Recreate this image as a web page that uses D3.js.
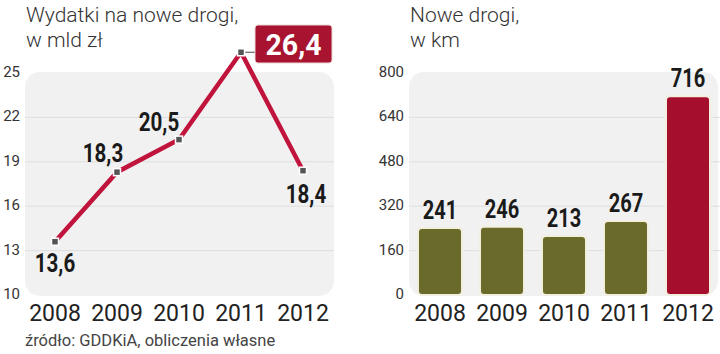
<!DOCTYPE html>
<html>
<head>
<meta charset="utf-8">
<script src="https://cdn.jsdelivr.net/npm/d3@7"></script>
<style>
  body { margin: 0; background: #fff; }
  svg { display: block; }
  .title { font-family: Roboto, "Open Sans", sans-serif; font-weight: 300; font-size: 21px; fill: #333; }
  .tick { font-family: Roboto, "Open Sans", sans-serif; font-size: 15px; fill: #333; }
  .year { font-family: Roboto, "Open Sans", sans-serif; font-size: 23px; fill: #222; }
  .val { font-family: Roboto, "Open Sans", sans-serif; font-weight: bold; font-size: 25px; fill: #1a1a1a; }
  .src { font-family: Roboto, "Open Sans", sans-serif; font-size: 16.5px; fill: #444; }
</style>
</head>
<body>
<div id="chart"></div>
<script>
const years = ["2008", "2009", "2010", "2011", "2012"];
const spending = [13.6, 18.3, 20.5, 26.4, 18.4];
const spendingLabels = ["13,6", "18,3", "20,5", "26,4", "18,4"];
const spendingTicks = [10, 13, 16, 19, 22, 25];
const roads = [241, 246, 213, 267, 716];
const roadTicks = [0, 160, 320, 480, 640, 800];

const width = 720, height = 354;
const svg = d3.select("#chart").append("svg")
  .attr("width", width).attr("height", height);

// condensed look for the value labels
const narrow = (s, k = 1) => (s.replace(/,/g, "").length * 11.5 + (s.split(",").length - 1) * 6) * k;

// ---- left: line chart ----
const xL = d3.scalePoint().domain(years).range([24, 334]).padding(0.5);
const yL = d3.scaleLinear().domain([10, 25]).range([295, 73]);

svg.append("rect").attr("x", 25).attr("y", 72).attr("width", 309).attr("height", 224)
  .attr("rx", 15).attr("fill", "#f1f1f1");

svg.selectAll(".gridL").data(spendingTicks.slice(1, -1)).enter().append("line")
  .attr("x1", 25).attr("x2", 334)
  .attr("y1", d => yL(d)).attr("y2", d => yL(d))
  .attr("stroke", "#dedede").attr("stroke-width", 1);

svg.selectAll(".tickL").data(spendingTicks).enter().append("text")
  .attr("class", "tick").attr("x", 20).attr("y", d => yL(d))
  .attr("text-anchor", "end").attr("dominant-baseline", "middle")
  .text(d => d);

svg.append("text").attr("class", "title").attr("x", 26).attr("y", 22).text("Wydatki na nowe drogi,");
svg.append("text").attr("class", "title").attr("x", 26).attr("y", 47).text("w mld zł");

const line = d3.line().x((d, i) => xL(years[i])).y(d => yL(d));
svg.append("path").datum(spending).attr("d", line)
  .attr("fill", "none").attr("stroke", "#c0143c").attr("stroke-width", 4.5)
  .attr("stroke-linejoin", "miter");

// highlighted max
const maxI = spending.indexOf(d3.max(spending));
svg.append("line")
  .attr("x1", xL(years[maxI])).attr("x2", 256)
  .attr("y1", yL(spending[maxI])).attr("y2", yL(spending[maxI]))
  .attr("stroke", "#666").attr("stroke-width", 1.2);
svg.append("rect").attr("x", 255).attr("y", 25).attr("width", 77).attr("height", 38)
  .attr("rx", 3).attr("fill", "#a8132f").attr("stroke", "#e9d6d9").attr("stroke-width", 1);
svg.append("text").attr("class", "val").attr("x", 293.5).attr("y", 55)
  .attr("text-anchor", "middle").style("fill", "#fff").style("font-size", "30px")
  .attr("textLength", narrow(spendingLabels[maxI], 1.38)).attr("lengthAdjust", "spacingAndGlyphs")
  .text(spendingLabels[maxI]);

svg.selectAll(".mark").data(spending).enter().append("rect")
  .attr("x", (d, i) => xL(years[i]) - 3.5).attr("y", d => yL(d) - 3.5)
  .attr("width", 7).attr("height", 7)
  .attr("fill", "#555").attr("stroke", "#fff").attr("stroke-width", 1.5);

const labelPos = [[0, 30], [-14, -10], [-20, -9], null, [3, 32]];
const rest = spending.map((d, i) => ({ v: d, i })).filter(d => d.i !== maxI);
svg.selectAll(".valL").data(rest).enter()
  .append("text").attr("class", "val")
  .attr("x", d => xL(years[d.i]) + labelPos[d.i][0])
  .attr("y", d => yL(d.v) + labelPos[d.i][1])
  .attr("text-anchor", "middle")
  .attr("textLength", d => narrow(spendingLabels[d.i])).attr("lengthAdjust", "spacingAndGlyphs")
  .text(d => spendingLabels[d.i]);

svg.selectAll(".yearL").data(years).enter().append("text")
  .attr("class", "year").attr("x", d => xL(d)).attr("y", 321)
  .attr("text-anchor", "middle").text(d => d);

svg.append("text").attr("class", "src").attr("x", 25).attr("y", 346)
  .text("źródło: GDDKiA, obliczenia własne");

// ---- right: bar chart ----
const xR = d3.scaleBand().domain(years).range([409, 719]).paddingInner(0.29).paddingOuter(0.145);
const yR = d3.scaleLinear().domain([0, 800]).range([295, 73]);

svg.append("rect").attr("x", 409).attr("y", 72).attr("width", 309).attr("height", 224)
  .attr("rx", 15).attr("fill", "#f1f1f1");

svg.selectAll(".gridR").data(roadTicks.slice(1, -1)).enter().append("line")
  .attr("x1", 409).attr("x2", 720)
  .attr("y1", d => yR(d)).attr("y2", d => yR(d))
  .attr("stroke", "#dedede").attr("stroke-width", 1);

svg.selectAll(".tickR").data(roadTicks).enter().append("text")
  .attr("class", "tick").attr("x", 404).attr("y", d => yR(d))
  .attr("text-anchor", "end").attr("dominant-baseline", "middle")
  .text(d => d);

svg.append("text").attr("class", "title").attr("x", 410).attr("y", 22).text("Nowe drogi,");
svg.append("text").attr("class", "title").attr("x", 410).attr("y", 47).text("w km");

svg.selectAll(".bar").data(roads).enter().append("rect")
  .attr("x", (d, i) => xR(years[i])).attr("y", d => yR(d))
  .attr("width", xR.bandwidth()).attr("height", d => yR(0) - yR(d))
  .attr("rx", 4)
  .attr("fill", (d, i) => i === roads.length - 1 ? "#a50f2d" : "#6a6a2b")
  .attr("stroke", "#f3efde").attr("stroke-width", 2);

svg.selectAll(".valR").data(roads).enter().append("text")
  .attr("class", "val")
  .attr("x", (d, i) => xR(years[i]) + xR.bandwidth() / 2)
  .attr("y", d => yR(d) - 9)
  .attr("text-anchor", "middle")
  .attr("textLength", d => narrow(String(d))).attr("lengthAdjust", "spacingAndGlyphs")
  .text(d => d);

svg.selectAll(".yearR").data(years).enter().append("text")
  .attr("class", "year").attr("x", d => xR(d) + xR.bandwidth() / 2).attr("y", 321)
  .attr("text-anchor", "middle").text(d => d);
</script>
</body>
</html>
